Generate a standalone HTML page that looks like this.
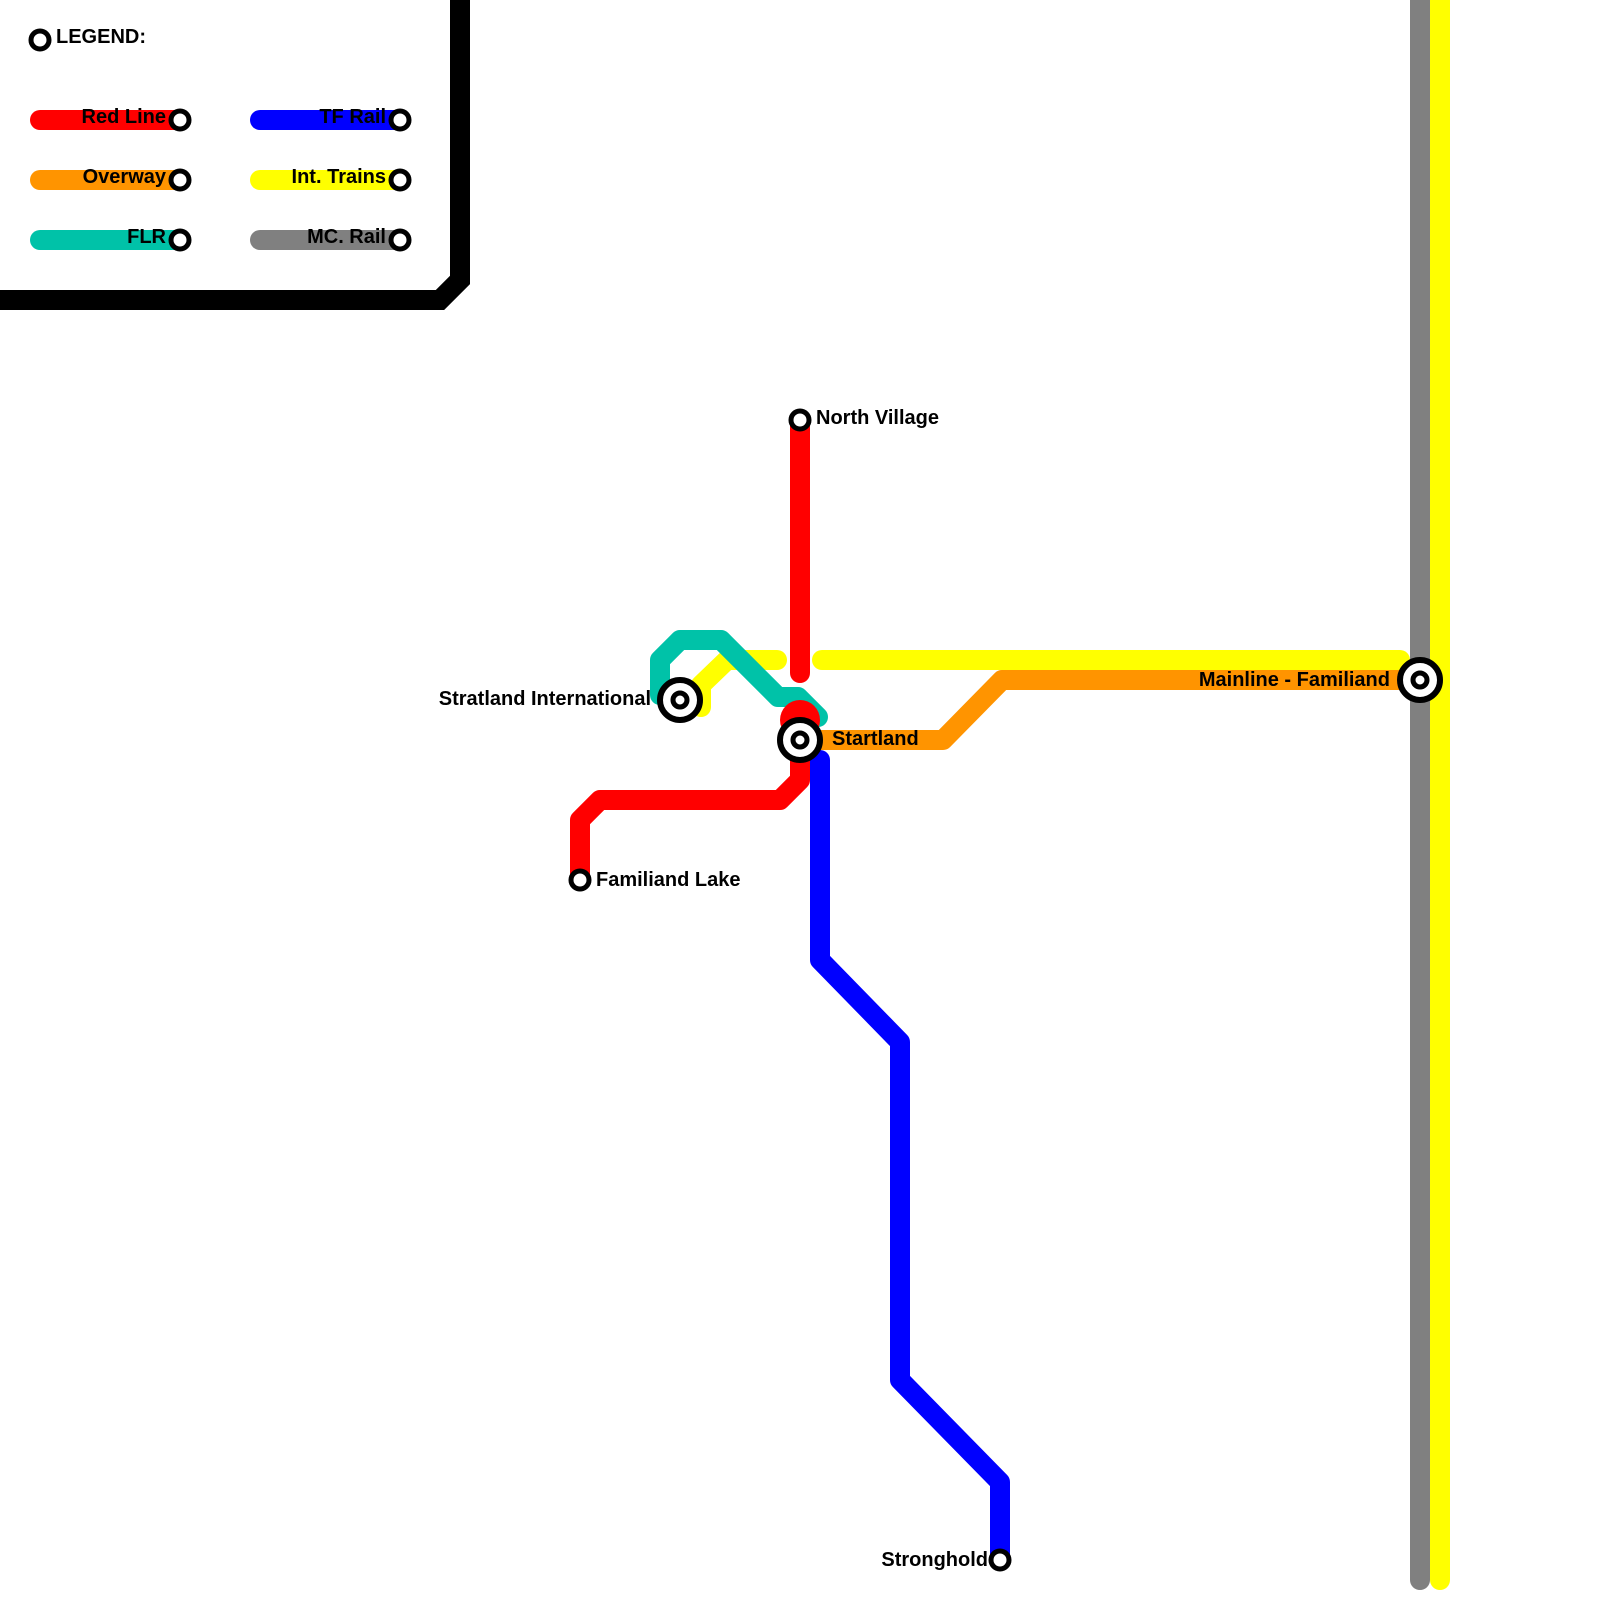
<!DOCTYPE html>
<html><head><meta charset="utf-8"><style>html,body{margin:0;padding:0;background:#fff}svg{display:block}text{font-family:"Liberation Sans",Arial,sans-serif;font-weight:bold;font-size:20px;fill:#000}</style></head>
<body>
<svg width="1600" height="1600" viewBox="0 0 1600 1600" xmlns="http://www.w3.org/2000/svg">
<g fill="none" stroke-linecap="round" stroke-linejoin="round" stroke-width="20">
<path d="M460,0 L460,280 L440,300 L0,300" stroke="#000" stroke-linecap="butt" stroke-linejoin="miter"/>
<line x1="40" y1="120" x2="180" y2="120" stroke="#ff0000"/>
<line x1="40" y1="180" x2="180" y2="180" stroke="#ff9400"/>
<line x1="40" y1="240" x2="180" y2="240" stroke="#00c2a8"/>
<line x1="260" y1="120" x2="400" y2="120" stroke="#0000ff"/>
<line x1="260" y1="180" x2="400" y2="180" stroke="#ffff00"/>
<line x1="260" y1="240" x2="400" y2="240" stroke="#808080"/>
<line x1="1420" y1="-20" x2="1420" y2="1580" stroke="#808080"/>
<line x1="1440" y1="-20" x2="1440" y2="1580" stroke="#ffff00"/>
<path d="M701,707 L701,685 L727,660 L777,660" stroke="#ffff00"/>
<line x1="822" y1="660" x2="1400" y2="660" stroke="#ffff00"/>
<path d="M800,740 L943,740 L1002,680 L1420,680" stroke="#ff9400" stroke-linecap="butt"/>
<line x1="800" y1="420" x2="800" y2="673" stroke="#ff0000"/>
<path d="M800,740 L800,780 L780,800 L600,800 L580,820 L580,880" stroke="#ff0000" stroke-linecap="butt"/>
<path d="M820,760 L820,960 L900,1042 L900,1380 L1000,1482 L1000,1560" stroke="#0000ff"/>
<path d="M660,695 L660,660 L680,640 L721,640 L778,697 L798,697 L818,717" stroke="#00c2a8"/>
</g>
<circle cx="800" cy="720" r="20" fill="#ff0000"/>
<g fill="#fff" stroke="#000" stroke-width="5">
<circle cx="40" cy="40" r="9"/>
<circle cx="180" cy="120" r="9"/><circle cx="180" cy="180" r="9"/><circle cx="180" cy="240" r="9"/>
<circle cx="400" cy="120" r="9"/><circle cx="400" cy="180" r="9"/><circle cx="400" cy="240" r="9"/>
<circle cx="800" cy="420" r="9"/>
<circle cx="580" cy="880" r="9"/>
<circle cx="1000" cy="1560" r="9"/>
</g>
<g fill="#fff" stroke="#000">
<circle cx="680" cy="700" r="20" stroke-width="6"/><circle cx="680" cy="700" r="7" stroke-width="5"/>
<circle cx="800" cy="740" r="20" stroke-width="6"/><circle cx="800" cy="740" r="7" stroke-width="5"/>
<circle cx="1420" cy="680" r="20" stroke-width="6"/><circle cx="1420" cy="680" r="7" stroke-width="5"/>
</g>
<text x="56" y="43">LEGEND:</text>
<text x="166" y="123" text-anchor="end">Red Line</text>
<text x="166" y="183" text-anchor="end">Overway</text>
<text x="166" y="243" text-anchor="end">FLR</text>
<text x="386" y="123" text-anchor="end">TF Rail</text>
<text x="386" y="183" text-anchor="end">Int. Trains</text>
<text x="386" y="243" text-anchor="end">MC. Rail</text>
<text x="816" y="424">North Village</text>
<text x="651" y="705" text-anchor="end">Stratland International</text>
<text x="832" y="745">Startland</text>
<text x="1390" y="686" text-anchor="end">Mainline - Familiand</text>
<text x="596" y="886">Familiand Lake</text>
<text x="988" y="1566" text-anchor="end">Stronghold</text>
</svg>
</body></html>
